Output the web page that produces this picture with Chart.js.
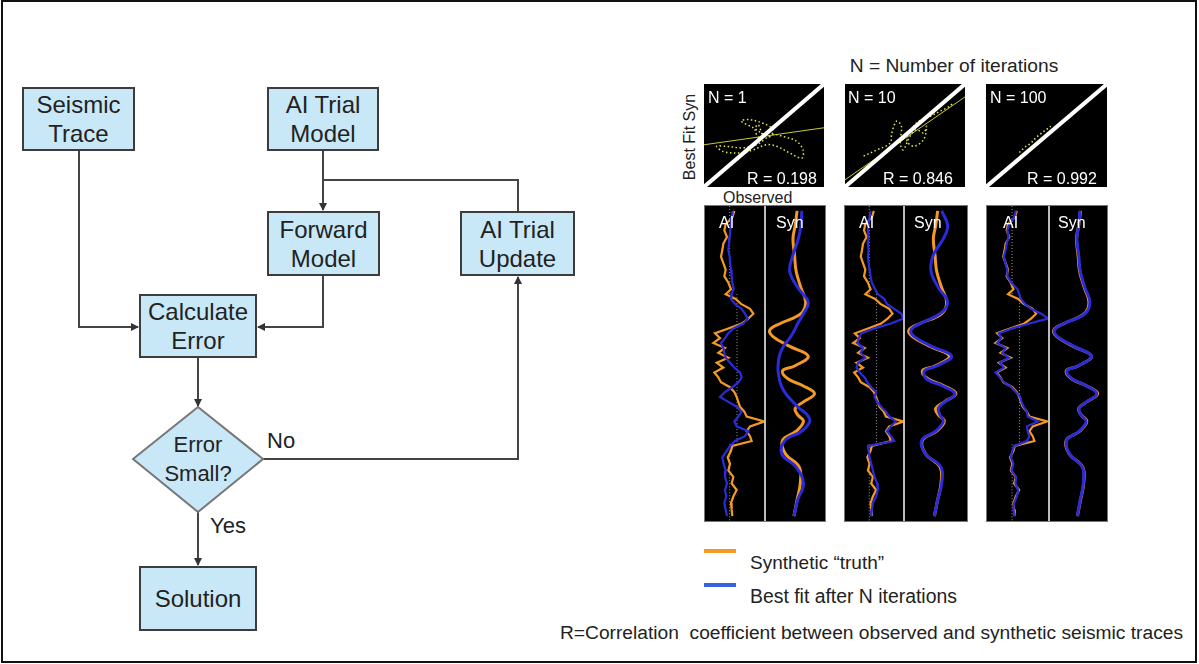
<!DOCTYPE html>
<html>
<head>
<meta charset="utf-8">
<script src="https://cdn.jsdelivr.net/npm/chart.js@4"></script>
<style>
  body { margin: 0; background: #fff; font-family: "Liberation Sans", Arial, sans-serif; }
  #page { position: relative; width: 1199px; height: 664px; overflow: hidden; }
  .frame { position: absolute; left: 1px; top: 0; width: 1196px; height: 663px; border: 2px solid #111; box-sizing: border-box; }
  .box { position: absolute; box-sizing: border-box; background: #c8e8f8; border: 2px solid #3c3c3c;
         display: flex; align-items: center; justify-content: center; text-align: center;
         font-size: 24px; line-height: 29px; color: #222; }
  .lbl { position: absolute; white-space: nowrap; color: #222; }
  .panel { position: absolute; background: #000; }
  .panel canvas { position: absolute; top: 0; }
  .trace { border: 1px solid #777; box-sizing: border-box; }
  .divider { position: absolute; top: 0; bottom: 0; width: 2px; background: #bbb; }
  .wt { position: absolute; color: #fff; font-size: 16px; white-space: nowrap; }
</style>
</head>
<body>
<div id="page">
  <div class="frame"></div>

  <!-- flowchart connectors -->
  <svg width="1199" height="664" style="position:absolute;left:0;top:0">
    <defs>
      <marker id="ah" markerWidth="8" markerHeight="8" refX="7" refY="4" orient="auto" markerUnits="userSpaceOnUse">
        <path d="M0,0 L8,4 L0,8 z" fill="#333"/>
      </marker>
    </defs>
    <g fill="none" stroke="#444" stroke-width="2">
      <path d="M79 151 V327 H138" marker-end="url(#ah)"/>
      <path d="M323 151 V210" marker-end="url(#ah)"/>
      <path d="M323 180 H518 V211"/>
      <path d="M323 276 V327 H258" marker-end="url(#ah)"/>
      <path d="M198 358 V406" marker-end="url(#ah)"/>
      <path d="M263 459 H518 V277" marker-end="url(#ah)"/>
      <path d="M198 512 V565" marker-end="url(#ah)"/>
    </g>
    <polygon points="198,407 263,459 198,512 133,459" fill="#c8e8f8" stroke="#777" stroke-width="2"/>
  </svg>

  <div class="box" style="left:22px;top:87px;width:113px;height:64px">Seismic<br>Trace</div>
  <div class="box" style="left:267px;top:87px;width:112px;height:64px">AI Trial<br>Model</div>
  <div class="box" style="left:267px;top:211px;width:113px;height:65px">Forward<br>Model</div>
  <div class="box" style="left:460px;top:211px;width:115px;height:65px">AI Trial<br>Update</div>
  <div class="box" style="left:139px;top:294px;width:118px;height:64px">Calculate<br>Error</div>
  <div class="box" style="left:139px;top:566px;width:118px;height:65px">Solution</div>
  <div class="lbl" style="left:148px;top:430px;width:100px;text-align:center;font-size:22px;line-height:29px">Error<br>Small?</div>
  <div class="lbl" style="left:267px;top:428px;font-size:22px">No</div>
  <div class="lbl" style="left:210px;top:513px;font-size:22px">Yes</div>

  <!-- right side -->
  <div class="lbl" style="left:804px;top:55px;width:300px;text-align:center;font-size:19.2px">N = Number of iterations</div>
  <div class="lbl" style="left:640px;top:128px;width:100px;text-align:center;font-size:16px;transform:rotate(-90deg)">Best Fit Syn</div>
  <div class="lbl" style="left:723px;top:189px;font-size:16px">Observed</div>

  <div class="panel" style="left:704px;top:84px;width:120px;height:103px"><canvas id="sc1" width="120" height="103"></canvas>
    <div class="wt" style="left:4px;top:5px">N = 1</div><div class="wt" style="left:43px;top:86px">R = 0.198</div></div>
  <div class="panel" style="left:845px;top:84px;width:120px;height:103px"><canvas id="sc2" width="120" height="103"></canvas>
    <div class="wt" style="left:3px;top:5px">N = 10</div><div class="wt" style="left:38px;top:86px">R = 0.846</div></div>
  <div class="panel" style="left:986px;top:84px;width:121px;height:103px"><canvas id="sc3" width="121" height="103"></canvas>
    <div class="wt" style="left:4px;top:5px">N = 100</div><div class="wt" style="left:41px;top:86px">R = 0.992</div></div>

  <div class="panel trace" style="left:704px;top:205px;width:122px;height:317px">
    <canvas id="ai1" width="60" height="315" style="left:0"></canvas><div class="divider" style="left:59px"></div>
    <canvas id="syn1" width="59" height="315" style="left:61px"></canvas>
    <div class="wt" style="left:14px;top:8px">AI</div><div class="wt" style="left:71px;top:8px">Syn</div></div>
  <div class="panel trace" style="left:844px;top:205px;width:124px;height:317px">
    <canvas id="ai2" width="59" height="315" style="left:0"></canvas><div class="divider" style="left:58px"></div>
    <canvas id="syn2" width="62" height="315" style="left:60px"></canvas>
    <div class="wt" style="left:14px;top:8px">AI</div><div class="wt" style="left:69px;top:8px">Syn</div></div>
  <div class="panel trace" style="left:986px;top:205px;width:122px;height:317px">
    <canvas id="ai3" width="61" height="315" style="left:0"></canvas><div class="divider" style="left:61px"></div>
    <canvas id="syn3" width="58" height="315" style="left:63px"></canvas>
    <div class="wt" style="left:16px;top:8px">AI</div><div class="wt" style="left:71px;top:8px">Syn</div></div>

  <!-- legend -->
  <div style="position:absolute;left:704px;top:549px;width:32px;height:4px;background:#f39a22"></div>
  <div style="position:absolute;left:704px;top:583px;width:32px;height:4px;background:#3a62e0"></div>
  <div class="lbl" style="left:750px;top:552px;font-size:19px">Synthetic “truth”</div>
  <div class="lbl" style="left:750px;top:585px;font-size:19.4px">Best fit after N iterations</div>
  <div class="lbl" style="left:560px;top:622px;font-size:19.2px">R=Correlation&nbsp; coefficient between observed and synthetic seismic traces</div>
</div>

<script>
// ---- AI (impedance) traces, sampled by depth (0 = top of panel, 965 = bottom) ----
const aiDepth = [15, 35, 55, 75, 95, 115, 135, 155, 175, 195, 215, 235, 255, 270, 285, 300, 315, 330, 345, 360,
                 375, 390, 405, 420, 435, 450, 465, 480, 495, 510, 525, 540, 555, 570, 585, 600, 615, 630, 645, 660,
                 675, 690, 705, 720, 735, 750, 770, 790, 810, 830, 850, 870, 890, 910, 930, 950];
const aiTruth = [88, 82, 62, 58, 66, 55, 52, 48, 55, 62, 58, 70, 78, 62, 92, 108, 135, 145, 130, 110,
                 70, 30, 45, 25, 60, 40, 70, 35, 55, 28, 40, 48, 75, 88, 95, 100, 105, 118, 125, 178,
                 135, 125, 135, 140, 82, 78, 68, 75, 70, 85, 80, 95, 85, 78, 80, 82];
const aiFitN1 = [83, 80, 78, 76, 74, 72, 70, 74, 75, 78, 80, 82, 86, 80, 78, 90, 110, 120, 128, 115,
                 85, 70, 60, 48, 55, 58, 62, 75, 88, 105, 110, 100, 82, 60, 45, 70, 95, 110, 100, 88,
                 95, 130, 120, 90, 75, 65, 52, 56, 62, 60, 66, 60, 64, 58, 62, 66];
const aiFitN10 = [78, 75, 72, 70, 72, 70, 72, 70, 72, 75, 78, 82, 92, 100, 120, 128, 150, 172, 178, 140,
                  90, 50, 42, 38, 55, 48, 62, 40, 35, 45, 60, 68, 80, 95, 90, 98, 110, 125, 135, 155,
                  140, 128, 140, 150, 70, 72, 75, 80, 85, 90, 98, 100, 95, 85, 82, 80];
const aiFitN100 = [85, 80, 66, 60, 64, 58, 55, 50, 54, 60, 60, 72, 90, 95, 100, 112, 130, 160, 180, 125,
                   75, 35, 42, 30, 55, 45, 65, 38, 50, 25, 38, 50, 72, 85, 98, 102, 108, 118, 120, 150,
                   118, 120, 125, 118, 80, 75, 70, 78, 72, 86, 84, 92, 88, 80, 78, 82];
const aiRefX = [74, 74, null, 96, 96, null, 74, 74];
const aiRefDepth = [0, 270, null, 270, 730, null, 730, 965];

// ---- synthetic seismic traces ----
const synDepth = [15, 60, 100, 150, 200, 250, 295, 330, 360, 380, 400, 430, 460, 490, 505,
                  530, 550, 575, 600, 620, 640, 660, 690, 718, 760, 800, 850, 900, 950];
const synTruth = [98, 92, 85, 90, 95, 110, 125, 110, 45, 12, 22, 75, 133, 90, 52,
                  70, 115, 153, 118, 92, 100, 118, 95, 52, 62, 105, 108, 98, 88];
const synFitN1 = [113, 110, 102, 85, 75, 100, 133, 118, 100, 90, 78, 55, 42, 38, 38,
                  42, 48, 62, 85, 105, 130, 138, 112, 60, 50, 95, 118, 100, 88];
const synFitN10 = [110, 128, 115, 85, 78, 100, 128, 105, 45, 18, 28, 80, 140, 95, 58,
                   65, 110, 150, 120, 100, 105, 115, 92, 50, 62, 108, 110, 98, 88];
const synFitN100 = [96, 92, 86, 92, 97, 112, 128, 112, 45, 14, 24, 77, 133, 90, 54,
                    72, 115, 150, 117, 93, 100, 116, 93, 53, 63, 104, 107, 97, 88];

// ---- cross-plots: observed (x) vs best fit synthetic (y), both scaled to -1..1 ----
const axisEnds = [-1, 1];
const loopN1X = [-0.01, -0.18, -0.38, -0.24, 0.04, 0.15, 0.10, -0.07, -0.15, -0.10, -0.04, -0.01, -0.13, -0.35,
                 -0.63, -0.79, -0.68, -0.40, -0.18, 0.04, 0.21, 0.43, 0.63, 0.65, 0.54, 0.32, 0.15, 0.05];
const loopN1Y = [0.02, 0.15, 0.28, 0.31, 0.21, 0.11, -0.02, -0.05, 0.11, 0.21, 0.05, -0.08, -0.18, -0.24,
                 -0.21, -0.21, -0.31, -0.34, -0.28, -0.18, -0.21, -0.34, -0.44, -0.28, -0.11, -0.02, 0.02, -0.06];
const fitLineN1 = [-0.18, 0.15];
const loopN10X = [-0.69, -0.47, -0.25, -0.22, -0.14, -0.06, -0.08, -0.03, 0.08, 0.19, 0.31, 0.36, 0.31, 0.14,
                  0.03, 0.19, 0.42, 0.58, 0.69, 0.81];
const loopN10Y = [-0.40, -0.28, -0.15, 0.05, 0.28, 0.18, -0.15, -0.28, -0.02, 0.11, 0.05, 0.18, -0.08, -0.21,
                  -0.08, 0.24, 0.37, 0.47, 0.53, 0.63];
const fitLineN10 = [-0.86, 0.75];
const loopN100X = [-0.45, -0.35, -0.26, -0.18, -0.10, -0.02, 0.07];
const loopN100Y = [-0.33, -0.22, -0.15, -0.05, 0.03, 0.10, 0.18];
const fitLineN100 = [-0.99, 0.99];

const ORANGE = '#f39a22';
const BLUE = '#2b2bdc';

function pts(xs, ys) {
  return xs.map((x, i) => ({ x: x, y: ys[i] }));
}

function baseOptions(xMin, xMax, yMin, yMax, reverse) {
  return {
    responsive: false,
    animation: false,
    devicePixelRatio: 1,
    layout: { padding: 0 },
    plugins: { legend: { display: false }, tooltip: { enabled: false } },
    elements: { point: { radius: 0 } },
    scales: {
      x: { type: 'linear', display: false, min: xMin, max: xMax },
      y: { type: 'linear', display: false, min: yMin, max: yMax, reverse: reverse }
    }
  };
}

function crossPlot(id, loopX, loopY, fitEnds) {
  new Chart(document.getElementById(id), {
    type: 'scatter',
    data: {
      datasets: [
        { data: pts(axisEnds, axisEnds), showLine: true, borderColor: '#fff', borderWidth: 4 },
        { data: pts(axisEnds, fitEnds), showLine: true, borderColor: '#c9c934', borderWidth: 1 },
        { data: pts(loopX, loopY), showLine: true, borderColor: '#e8e84c', borderWidth: 1.5,
          borderDash: [1.5, 2.5], tension: 0.35 }
      ]
    },
    options: baseOptions(-1, 1, -1, 1, false)
  });
}

function aiColumn(id, fit) {
  new Chart(document.getElementById(id), {
    type: 'scatter',
    data: {
      datasets: [
        { data: pts(fit, aiDepth), showLine: true, borderColor: BLUE, borderWidth: 2.2 },
        { data: pts(aiTruth, aiDepth), showLine: true, borderColor: ORANGE, borderWidth: 2.2 },
        { data: pts(aiRefX, aiRefDepth), showLine: true, borderColor: '#9a9a9a', borderWidth: 1,
          borderDash: [1, 2], spanGaps: false }
      ]
    },
    options: baseOptions(0, 180, 0, 965, true)
  });
}

function synColumn(id, fit) {
  new Chart(document.getElementById(id), {
    type: 'scatter',
    data: {
      datasets: [
        { data: pts(fit, synDepth), showLine: true, borderColor: BLUE, borderWidth: 3, tension: 0.4 },
        { data: pts(synTruth, synDepth), showLine: true, borderColor: ORANGE, borderWidth: 3, tension: 0.4 }
      ]
    },
    options: baseOptions(0, 186, 0, 965, true)
  });
}

crossPlot('sc1', loopN1X, loopN1Y, fitLineN1);
crossPlot('sc2', loopN10X, loopN10Y, fitLineN10);
crossPlot('sc3', loopN100X, loopN100Y, fitLineN100);

aiColumn('ai1', aiFitN1);
aiColumn('ai2', aiFitN10);
aiColumn('ai3', aiFitN100);

synColumn('syn1', synFitN1);
synColumn('syn2', synFitN10);
synColumn('syn3', synFitN100);
</script>
</body>
</html>
